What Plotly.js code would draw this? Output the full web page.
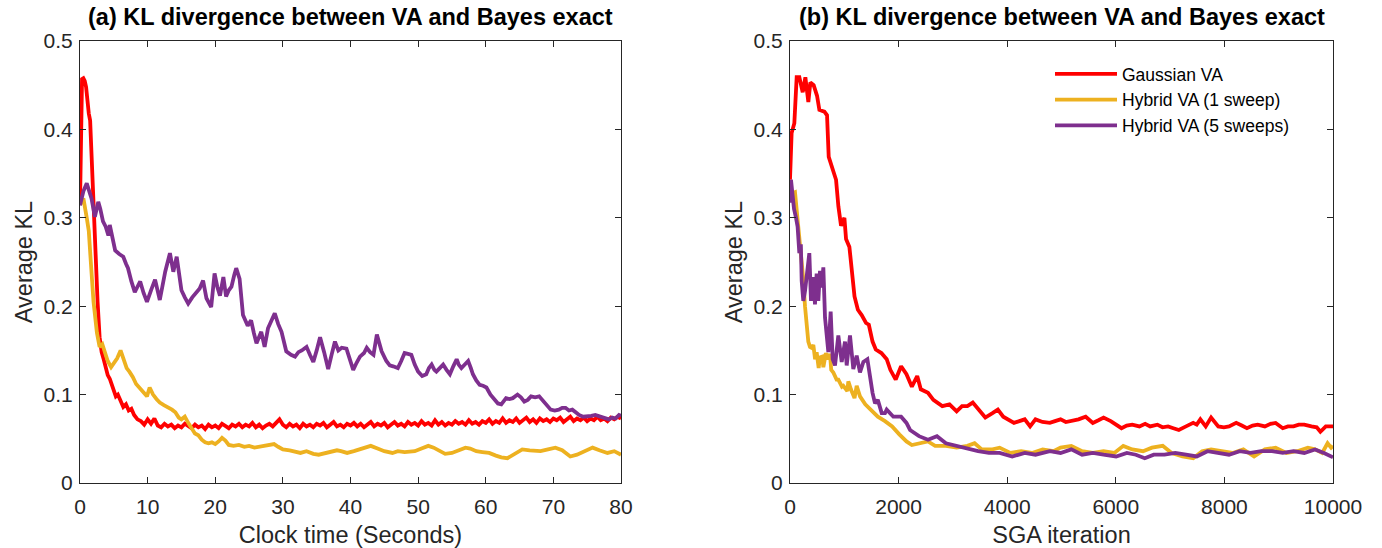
<!DOCTYPE html>
<html>
<head>
<meta charset="utf-8">
<script src="https://cdn.plot.ly/plotly-3.0.1.min.js"></script>
<style>html,body{margin:0;padding:0;background:#fff;}#chart{width:1382px;height:548px;}</style>
</head>
<body>
<div id="chart"></div>
<script>
// ---------- Panel (a): clock time (seconds) ----------
const timeGauss = [0,0.15,0.3,0.5,0.7,0.9,1.1,1.3,1.5,1.7,2.0,2.3,2.6,2.9,3.2,3.5,3.8,4.1,4.4,4.7,5.0,5.3,5.6,6.0,6.4,6.8,7.2,7.6,8.0,8.5,
  9,9.5,10,10.5,11,11.5,12,12.5,13,13.5,14,14.5,15,15.5,16,16.5,17,17.5,18,18.5,19,19.5,20,20.5,21,21.5,22,22.5,23,23.5,
  24,24.5,25,25.5,26,26.5,27,27.5,28,28.5,29,29.5,30,30.5,31,31.5,32,32.5,33,33.5,34,34.5,35,35.5,36,36.5,37,37.5,38,38.5,
  39,39.5,40,40.5,41,41.5,42,42.5,43,43.5,44,44.5,45,45.5,46,46.5,47,47.5,48,48.5,49,49.5,50,50.5,51,51.5,52,52.5,53,53.5,
  54,54.5,55,55.5,56,56.5,57,57.5,58,58.5,59,59.5,60,60.5,61,61.5,62,62.5,63,63.5,64,64.5,65,65.5,66,66.5,67,67.5,68,68.5,
  69,69.5,70,70.5,71,71.5,72,72.5,73,73.5,74,74.5,75,75.5,76,76.5,77,77.5,78,78.5,79,79.5,80];
const klGaussA = [0.315,0.41,0.457,0.458,0.455,0.448,0.43,0.418,0.41,0.37,0.31,0.26,0.205,0.165,0.148,0.14,0.132,0.122,0.118,0.112,0.104,0.098,0.1,0.092,0.086,0.089,0.082,0.084,0.077,0.072,
  0.070,0.066,0.072,0.067,0.073,0.065,0.063,0.067,0.064,0.066,0.062,0.065,0.063,0.067,0.064,0.062,0.066,0.063,0.065,0.061,0.066,0.063,0.065,0.062,0.067,0.064,0.062,0.066,0.064,0.067,
  0.063,0.066,0.064,0.068,0.063,0.066,0.062,0.065,0.067,0.064,0.068,0.072,0.066,0.063,0.067,0.064,0.066,0.062,0.067,0.064,0.066,0.063,0.067,0.065,0.068,0.063,0.066,0.069,0.064,0.066,
  0.063,0.067,0.065,0.068,0.064,0.067,0.063,0.066,0.069,0.064,0.067,0.065,0.068,0.063,0.066,0.069,0.065,0.067,0.064,0.069,0.066,0.068,0.065,0.070,0.066,0.068,0.065,0.071,0.066,0.069,
  0.065,0.068,0.066,0.070,0.067,0.069,0.066,0.071,0.067,0.069,0.066,0.070,0.068,0.072,0.067,0.070,0.068,0.073,0.068,0.071,0.069,0.073,0.068,0.071,0.074,0.069,0.072,0.068,0.073,0.070,
  0.072,0.069,0.073,0.071,0.074,0.069,0.072,0.075,0.070,0.073,0.071,0.074,0.070,0.073,0.071,0.075,0.071,0.073,0.070,0.074,0.072,0.075,0.073];

const timeHyb1 = [0,0.5,1.0,1.3,1.6,2.0,2.5,2.9,3.3,3.7,4.1,4.6,5.0,5.5,6.0,6.4,6.9,7.3,7.8,8.3,8.9,9.4,9.9,10.3,10.8,11.3,11.8,12.4,13.0,13.6,
  14.1,14.6,15.0,15.5,16.0,16.5,17.0,17.5,18.0,18.5,19.0,19.5,20.0,20.5,21.0,21.5,22.0,22.7,23.5,24.3,25.0,25.8,26.5,27.3,28.0,28.7,29.3,30.0,31.0,32.0,
  32.6,33.5,34.5,35.3,36.2,37.0,38.0,38.6,39.5,40.5,41.5,42.3,43.0,44.0,45.0,46.2,47.0,48.0,49.5,50.5,51.5,52.3,53.2,54.0,55.0,56.0,57.0,57.7,58.6,59.5,
  60.5,61.5,62.3,63.2,64.2,65.4,66.5,67.3,68.1,69.2,70.3,71.3,72.5,73.5,74.5,75.8,76.8,78.0,79.0,80.0];
const klHyb1A = [0.315,0.322,0.3,0.285,0.25,0.205,0.17,0.154,0.157,0.148,0.138,0.131,0.136,0.141,0.15,0.142,0.13,0.126,0.12,0.112,0.107,0.103,0.098,0.108,0.1,0.095,0.091,0.088,0.086,0.083,
  0.08,0.074,0.072,0.075,0.068,0.061,0.056,0.054,0.049,0.046,0.045,0.046,0.044,0.047,0.051,0.048,0.043,0.042,0.043,0.041,0.042,0.04,0.041,0.042,0.044,0.044,0.041,0.038,0.037,0.035,
  0.034,0.036,0.033,0.032,0.034,0.035,0.037,0.036,0.034,0.036,0.038,0.04,0.042,0.039,0.036,0.034,0.036,0.035,0.036,0.039,0.042,0.04,0.036,0.033,0.034,0.037,0.04,0.039,0.036,0.035,
  0.034,0.031,0.029,0.028,0.033,0.038,0.037,0.036,0.036,0.038,0.04,0.037,0.03,0.032,0.036,0.04,0.037,0.034,0.036,0.032];

const timeHyb5 = [0,0.5,1.0,1.4,1.7,2.2,2.7,3.0,3.4,3.8,
  4.2,4.4,4.8,5.2,5.8,6.4,6.8,7.1,7.6,8.1,
  8.5,8.9,9.4,9.9,10.5,11.1,11.8,12.2,12.6,13.3,
  13.8,14.3,15.0,15.5,16.0,16.6,17.2,17.7,18.2,18.7,
  19.4,19.9,20.3,20.7,21.2,21.6,22.0,22.4,22.8,23.1,
  23.6,24.1,24.8,25.3,25.7,26.1,26.8,27.3,27.8,28.3,
  28.8,29.3,29.8,30.5,31.2,31.8,32.3,32.8,33.5,34.0,
  34.5,35.0,35.5,36.1,36.7,37.2,37.7,38.2,38.7,39.4,
  39.9,40.4,40.9,41.4,42.0,42.4,42.9,43.4,43.9,44.3,
  44.6,45.3,45.8,46.3,47.0,47.5,48.0,48.5,49.0,49.5,
  50.0,50.6,51.2,51.6,52.0,52.4,52.7,53.2,53.7,54.2,
  54.7,55.2,55.7,56.0,56.4,56.9,57.4,57.8,58.1,58.6,
  59.1,59.6,60.1,60.7,61.3,61.8,62.3,62.7,63.0,63.5,
  64.0,64.7,65.2,65.7,66.2,66.7,67.3,67.9,68.6,69.1,
  69.6,70.2,70.8,71.3,71.8,72.3,72.8,73.3,73.8,74.4,
  75.0,75.6,76.2,77.0,77.7,78.2,78.7,79.2,79.7,80.0];
const klHyb5A = [0.314,0.33,0.339,0.328,0.322,0.301,0.318,0.31,0.296,0.29,
  0.28,0.292,0.275,0.263,0.259,0.256,0.248,0.243,0.228,0.216,
  0.222,0.228,0.215,0.205,0.218,0.23,0.207,0.225,0.239,0.26,
  0.239,0.256,0.218,0.21,0.203,0.21,0.216,0.22,0.229,0.209,
  0.199,0.237,0.222,0.212,0.233,0.211,0.218,0.222,0.235,0.243,
  0.231,0.19,0.178,0.184,0.17,0.158,0.171,0.154,0.175,0.183,
  0.192,0.18,0.171,0.149,0.145,0.143,0.148,0.15,0.154,0.145,
  0.137,0.15,0.165,0.148,0.129,0.145,0.16,0.15,0.153,0.152,
  0.14,0.128,0.136,0.143,0.147,0.153,0.148,0.145,0.168,0.158,
  0.149,0.138,0.133,0.132,0.13,0.138,0.147,0.146,0.145,0.134,
  0.126,0.121,0.123,0.13,0.134,0.128,0.126,0.13,0.134,0.128,
  0.123,0.132,0.14,0.134,0.13,0.134,0.138,0.13,0.123,0.116,
  0.111,0.11,0.108,0.1,0.094,0.09,0.089,0.094,0.096,0.095,
  0.096,0.1,0.097,0.092,0.094,0.098,0.097,0.098,0.092,0.087,
  0.083,0.082,0.083,0.085,0.085,0.082,0.083,0.08,0.077,0.075,
  0.075,0.076,0.077,0.075,0.074,0.072,0.074,0.073,0.077,0.076];

// ---------- Panel (b): SGA iteration ----------
const iterGauss = [0,30,80,123,172,234,283,338,375,436,
  498,541,633,682,713,787,848,891,940,1002,
  1032,1094,1155,1188,1250,1320,1400,1452,1520,1580,
  1683,1781,1848,1947,2046,2145,2244,2343,2409,2541,
  2640,2805,2937,3069,3168,3267,3366,3465,3597,3729,
  3828,3927,4025,4125,4224,4323,4422,4521,4650,4785,
  4880,4983,5080,5181,5313,5445,5577,5680,5775,5907,
  6005,6105,6200,6303,6435,6540,6633,6765,6860,6963,
  7060,7161,7293,7425,7490,7557,7656,7755,7887,7990,
  8085,8217,8320,8415,8520,8613,8745,8850,8943,9075,
  9170,9273,9370,9471,9603,9700,9768,9867,9966,10000];
const klGaussB = [0.343,0.396,0.407,0.459,0.459,0.442,0.459,0.431,0.453,0.45,
  0.438,0.422,0.42,0.416,0.369,0.356,0.343,0.313,0.291,0.3,
  0.276,0.267,0.235,0.211,0.196,0.19,0.181,0.179,0.16,0.151,
  0.147,0.14,0.128,0.117,0.132,0.123,0.109,0.121,0.106,0.102,
  0.094,0.087,0.089,0.081,0.087,0.087,0.091,0.083,0.074,0.079,
  0.083,0.075,0.071,0.068,0.07,0.072,0.064,0.072,0.069,0.068,
  0.07,0.072,0.069,0.07,0.072,0.075,0.068,0.071,0.074,0.07,
  0.066,0.062,0.065,0.066,0.064,0.067,0.064,0.066,0.063,0.064,
  0.062,0.06,0.064,0.068,0.066,0.072,0.064,0.074,0.064,0.063,
  0.064,0.068,0.065,0.062,0.065,0.066,0.064,0.067,0.068,0.062,
  0.064,0.064,0.066,0.066,0.064,0.063,0.058,0.064,0.064,0.064];

const iterHyb1 = [0,49,92,141,172,215,245,276,337,368,
  396,430,462,491,528,552,594,614,660,700,
  737,759,798,858,890,957,982,1056,1074,1122,
  1135,1188,1228,1289,1386,1485,1550,1617,1749,1881,
  2013,2145,2244,2409,2541,2673,2871,3069,3267,3399,
  3531,3729,3861,4059,4257,4455,4653,4851,4983,5181,
  5379,5577,5775,5973,6138,6303,6501,6666,6864,7029,
  7227,7425,7590,7755,7953,8151,8349,8547,8745,8943,
  9141,9339,9537,9669,9801,9900,9966,10000];
const klHyb1B = [0.321,0.328,0.329,0.3,0.279,0.25,0.23,0.2,0.16,0.154,
  0.153,0.156,0.14,0.148,0.13,0.142,0.143,0.131,0.147,0.14,
  0.146,0.128,0.125,0.117,0.117,0.109,0.11,0.104,0.115,0.106,
  0.104,0.096,0.11,0.098,0.089,0.083,0.08,0.075,0.07,0.064,
  0.055,0.047,0.043,0.045,0.047,0.042,0.042,0.04,0.042,0.045,
  0.038,0.038,0.04,0.034,0.036,0.034,0.038,0.036,0.04,0.042,
  0.036,0.034,0.036,0.034,0.042,0.038,0.036,0.04,0.042,0.034,
  0.03,0.028,0.036,0.038,0.036,0.034,0.038,0.03,0.038,0.04,
  0.034,0.036,0.04,0.038,0.034,0.045,0.04,0.042];

const iterHyb5 = [0,18,49,74,111,140,172,200,215,245,
  276,307,356,387,430,460,491,522,552,583,
  614,645,675,706,749,786,829,890,952,1013,
  1044,1105,1166,1228,1289,1351,1425,1474,1520,1566,
  1617,1689,1749,1781,1881,1903,2046,2145,2211,2376,
  2541,2706,2871,3069,3267,3465,3663,3861,4092,4323,
  4521,4785,4983,5181,5379,5577,5775,6006,6204,6369,
  6534,6699,6897,7095,7293,7491,7689,7887,8085,8283,
  8481,8679,8877,9075,9273,9471,9669,9834,9966,10000];
const klHyb5B = [0.317,0.343,0.325,0.31,0.3,0.29,0.26,0.27,0.229,0.206,
  0.217,0.233,0.26,0.206,0.233,0.202,0.237,0.206,0.24,0.221,
  0.244,0.187,0.163,0.148,0.194,0.14,0.133,0.167,0.137,0.16,
  0.133,0.167,0.129,0.144,0.125,0.137,0.14,0.117,0.102,0.09,
  0.094,0.079,0.079,0.083,0.075,0.075,0.075,0.068,0.06,0.053,
  0.049,0.053,0.045,0.042,0.038,0.036,0.034,0.034,0.03,0.034,
  0.032,0.036,0.034,0.038,0.032,0.034,0.032,0.03,0.034,0.032,
  0.028,0.032,0.032,0.034,0.032,0.03,0.036,0.034,0.032,0.036,
  0.034,0.036,0.036,0.034,0.036,0.034,0.038,0.034,0.03,0.029];

const seriesNames = ['Gaussian VA', 'Hybrid VA (1 sweep)', 'Hybrid VA (5 sweeps)'];
const seriesColors = ['#FF0000', '#EDB120', '#7E2F8E'];
const panelTitles = ['(a) KL divergence between VA and Bayes exact', '(b) KL divergence between VA and Bayes exact'];
const xTitles = ['Clock time (Seconds)', 'SGA iteration'];
const yTitle = 'Average KL';

const FONT = 'Liberation Sans, Arial, Helvetica, sans-serif';
const LW = 3.8;

const leftX = [timeGauss, timeHyb1, timeHyb5];
const leftY = [klGaussA, klHyb1A, klHyb5A];
const rightX = [iterGauss, iterHyb1, iterHyb5];
const rightY = [klGaussB, klHyb1B, klHyb5B];

const traces = [];
for (let i = 0; i < 3; i++) {
  traces.push({x: leftX[i], y: leftY[i], type: 'scatter', mode: 'lines', name: seriesNames[i],
    line: {color: seriesColors[i], width: LW}, xaxis: 'x', yaxis: 'y', showlegend: false});
}
for (let i = 0; i < 3; i++) {
  traces.push({x: rightX[i], y: rightY[i], type: 'scatter', mode: 'lines', name: seriesNames[i],
    line: {color: seriesColors[i], width: LW}, xaxis: 'x2', yaxis: 'y2', showlegend: true});
}

const W = 1382, H = 548;
const axCommon = {
  showline: true, linecolor: '#262626', linewidth: 1, mirror: 'ticks',
  ticks: 'inside', ticklen: 6, tickwidth: 1, tickcolor: '#262626',
  showgrid: false, zeroline: false,
  tickfont: {family: FONT, size: 21, color: '#262626'}
};
const titleFont = {family: FONT, size: 23.5, color: '#262626'};
const yDom = [1 - 483 / H, 1 - 41 / H];

const layout = {
  width: W, height: H,
  margin: {l: 0, r: 0, t: 0, b: 0},
  paper_bgcolor: '#ffffff', plot_bgcolor: '#ffffff',
  font: {family: FONT, color: '#262626'},
  xaxis: Object.assign({}, axCommon, {domain: [80 / W, 621 / W], range: [0, 80], dtick: 10, tick0: 0, anchor: 'y',
    ticklabelstandoff: 5, title: {text: xTitles[0], font: titleFont, standoff: 12}}),
  yaxis: Object.assign({}, axCommon, {domain: yDom, range: [0, 0.5], dtick: 0.1, tick0: 0, anchor: 'x',
    ticklabelstandoff: 2, title: {text: yTitle, font: titleFont, standoff: 4}}),
  xaxis2: Object.assign({}, axCommon, {domain: [790 / W, 1333 / W], range: [0, 10000], dtick: 2000, tick0: 0, anchor: 'y2', tickformat: 'd',
    ticklabelstandoff: 5, title: {text: xTitles[1], font: titleFont, standoff: 12}}),
  yaxis2: Object.assign({}, axCommon, {domain: yDom, range: [0, 0.5], dtick: 0.1, tick0: 0, anchor: 'x2',
    ticklabelstandoff: 2, title: {text: yTitle, font: titleFont, standoff: 4}}),
  showlegend: true,
  legend: {x: 1050 / W, y: 1 - 56 / H, xanchor: 'left', yanchor: 'top', bgcolor: 'rgba(255,255,255,0)',
    borderwidth: 0, font: {family: FONT, size: 17.5, color: '#000000'}, itemwidth: 62, tracegroupgap: 0},
  annotations: [
    {text: '<b>' + panelTitles[0] + '</b>', xref: 'paper', yref: 'paper', x: 350.5 / W, y: 1 - 17 / H,
      xanchor: 'center', yanchor: 'middle', showarrow: false, font: {family: FONT, size: 23.5, color: '#000000'}},
    {text: '<b>' + panelTitles[1] + '</b>', xref: 'paper', yref: 'paper', x: 1061.5 / W, y: 1 - 17 / H,
      xanchor: 'center', yanchor: 'middle', showarrow: false, font: {family: FONT, size: 23.5, color: '#000000'}}
  ]
};

Plotly.newPlot('chart', traces, layout, {displayModeBar: false, staticPlot: true});
</script>
</body>
</html>
